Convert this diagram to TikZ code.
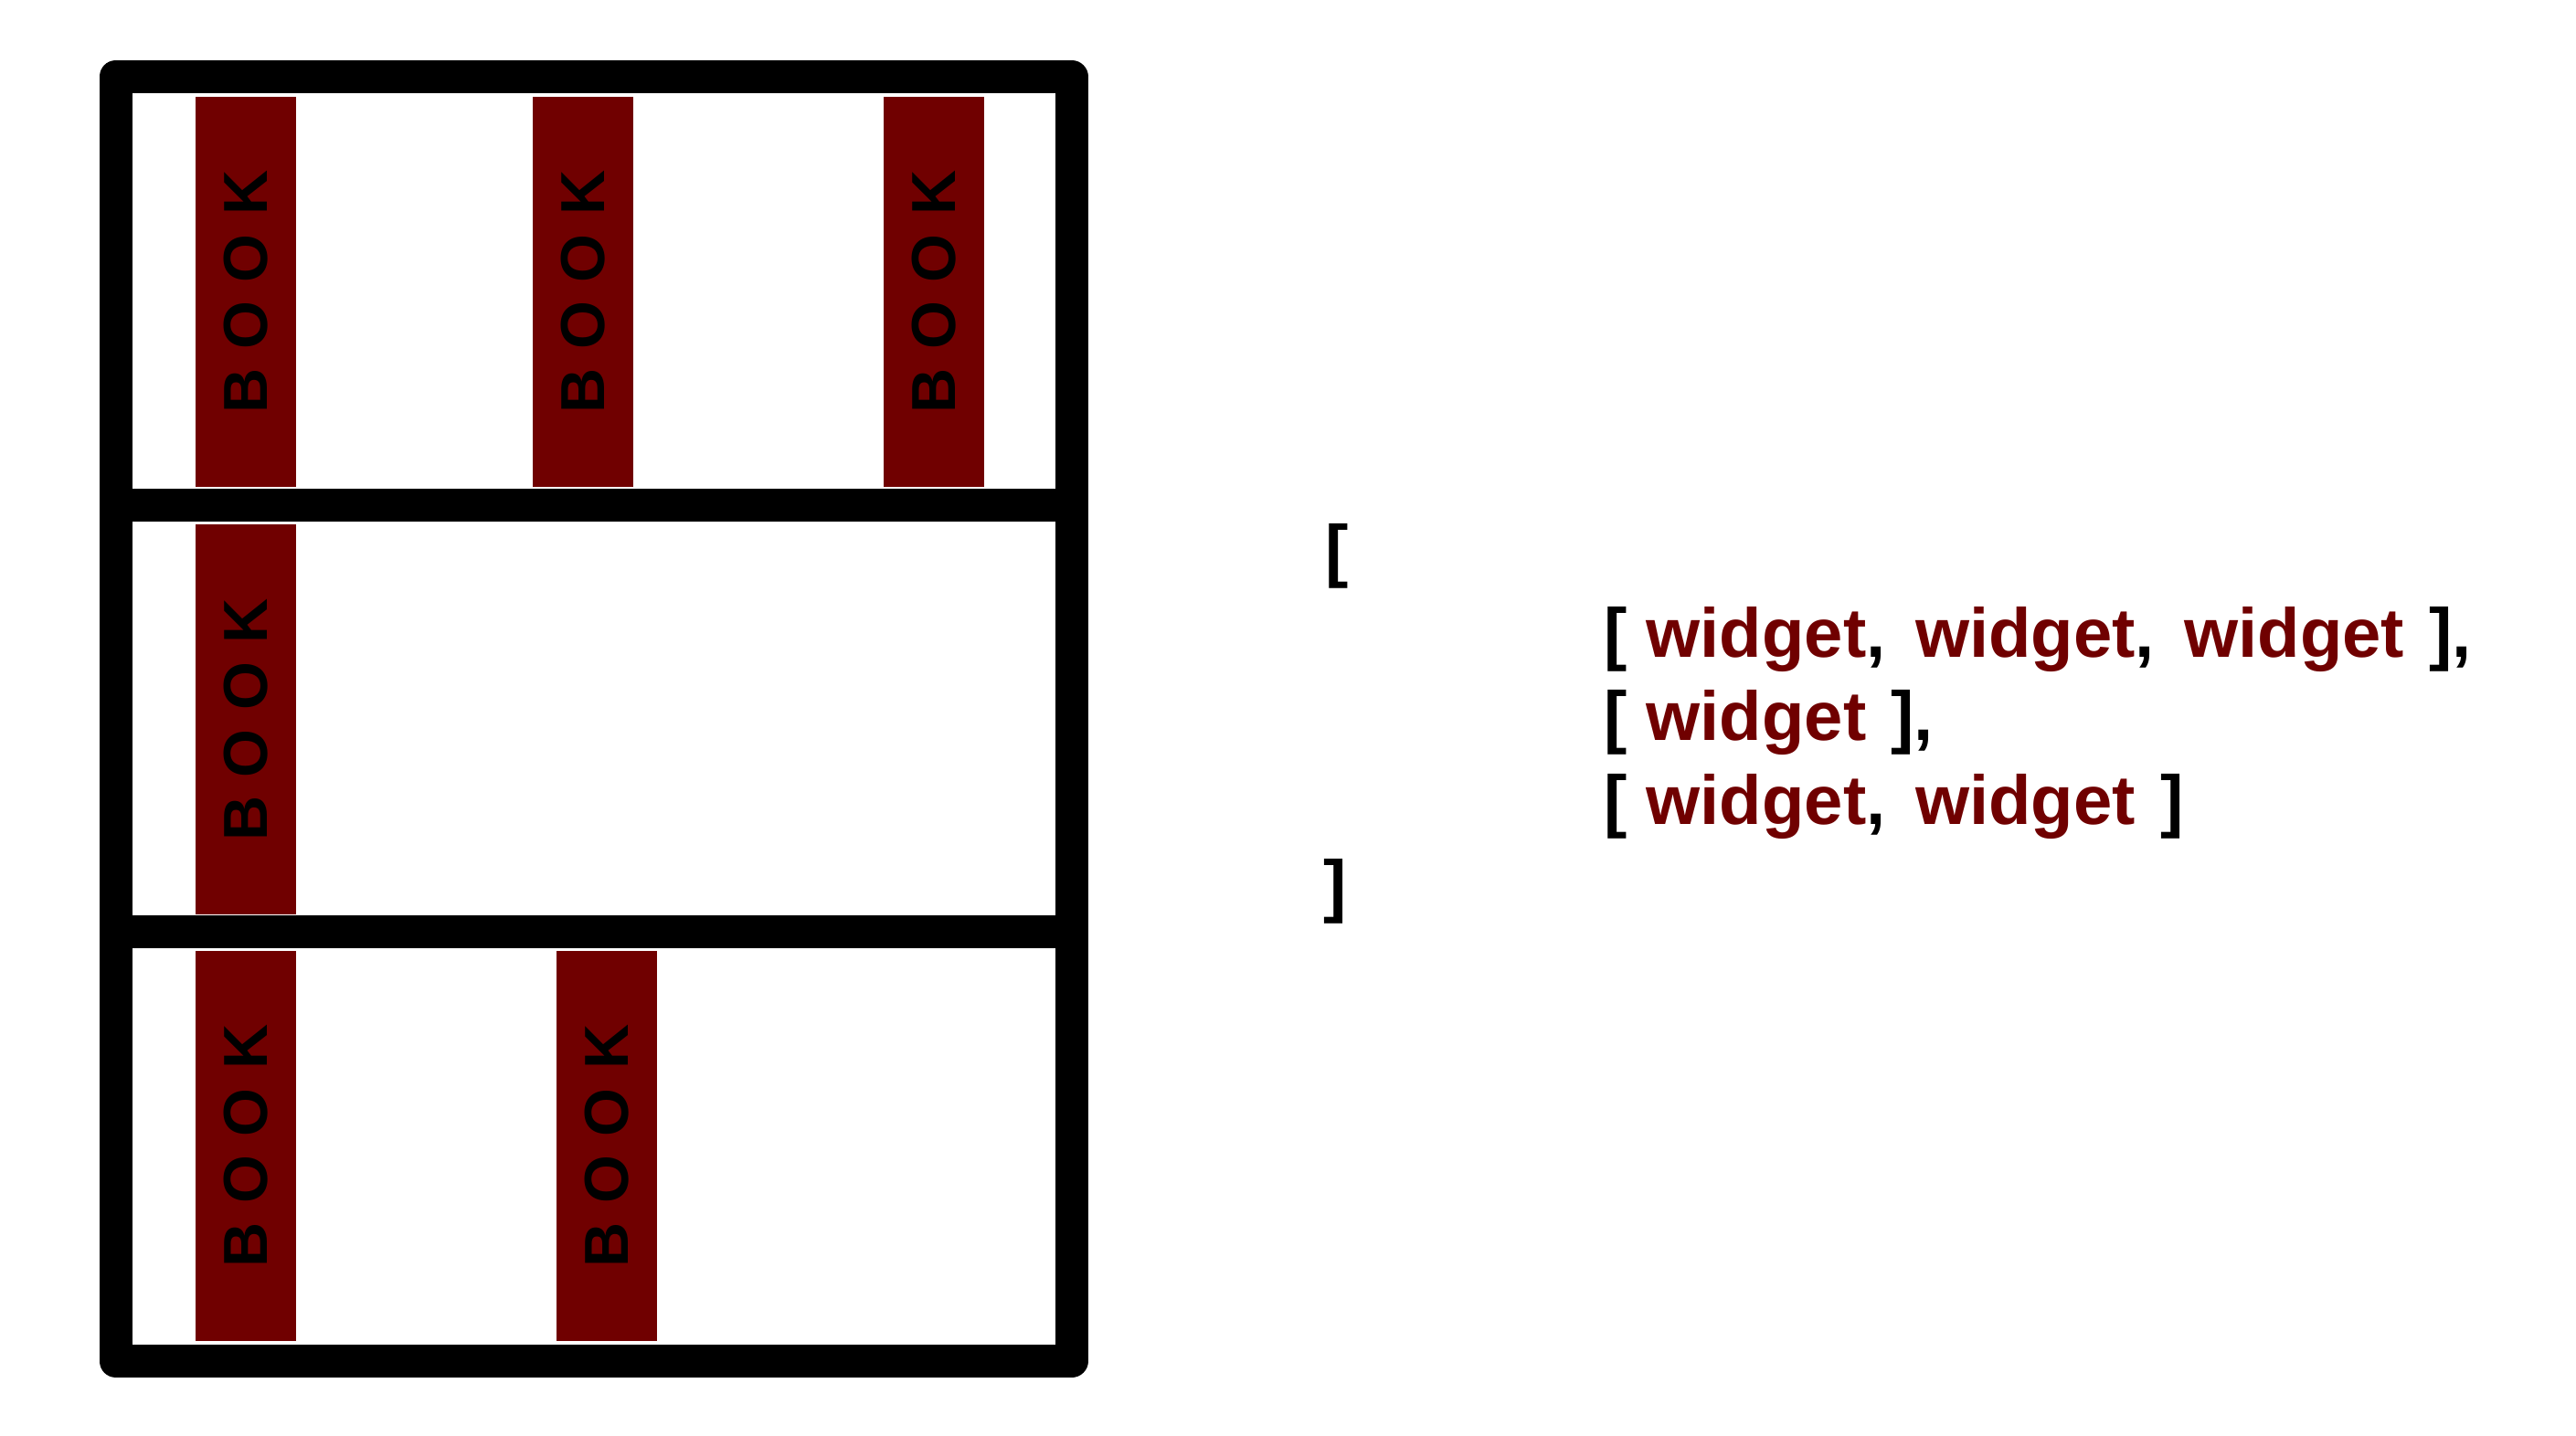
\documentclass[tikz,border=0pt]{standalone}
\usepackage{fontspec}
\setmainfont{Liberation Sans}
\definecolor{bookred}{RGB}{112,0,0}
\newcommand{\wdg}{\textcolor{bookred}{widget}}
\newcommand{\nxt}{,\hspace{0.43em}}
\newcommand{\cls}{\hspace{0.36em}]}
\tikzset{
  book/.style={rectangle,fill=bookred,draw=none,inner sep=0pt,rotate=90,
    minimum width=106.75bp,minimum height=27.5bp,
    font=\fontsize{17bp}{17bp}\bfseries\addfontfeature{LetterSpace=30}},
  listline/.style={anchor=base west,inner sep=0pt,draw=none,
    font=\fontsize{19bp}{23bp}\bfseries},
}
\begin{document}
\begin{tikzpicture}[line join=round,]
\useasboundingbox (0bp,0bp) rectangle (704.75bp,393bp);
%% shelf frame
\draw [black,line width=9bp] (31.625bp,20.5bp) rectangle (293.175bp,372bp);
  \draw [black,line width=9bp] (31.625bp,254.75bp) -- (293.175bp,254.75bp);
  \draw [black,line width=9bp] (31.625bp,138bp) -- (293.175bp,138bp);
%% books
\node (book_1_1) at (67.25bp,313.125bp) [book] {BOOK};
  \node (book_1_2) at (159.5bp,313.125bp) [book] {BOOK};
  \node (book_1_3) at (255.5bp,313.125bp) [book] {BOOK};
  \node (book_2_1) at (67.25bp,196bp) [book] {BOOK};
  \node (book_3_1) at (67.25bp,79.375bp) [book] {BOOK};
  \node (book_3_2) at (166bp,79.375bp) [book] {BOOK};
%% list
\node (list_open) at (362.3bp,235.75bp) [listline] {[};
  \node (row_1) at (438.6bp,213bp) [listline] {[ \wdg\nxt\wdg\nxt\wdg\cls,};
  \node (row_2) at (438.6bp,190.25bp) [listline] {[ \wdg\cls,};
  \node (row_3) at (438.6bp,167.25bp) [listline] {[ \wdg\nxt\wdg\cls};
  \node (list_close) at (362bp,144bp) [listline] {]};
%
\end{tikzpicture}
\end{document}
